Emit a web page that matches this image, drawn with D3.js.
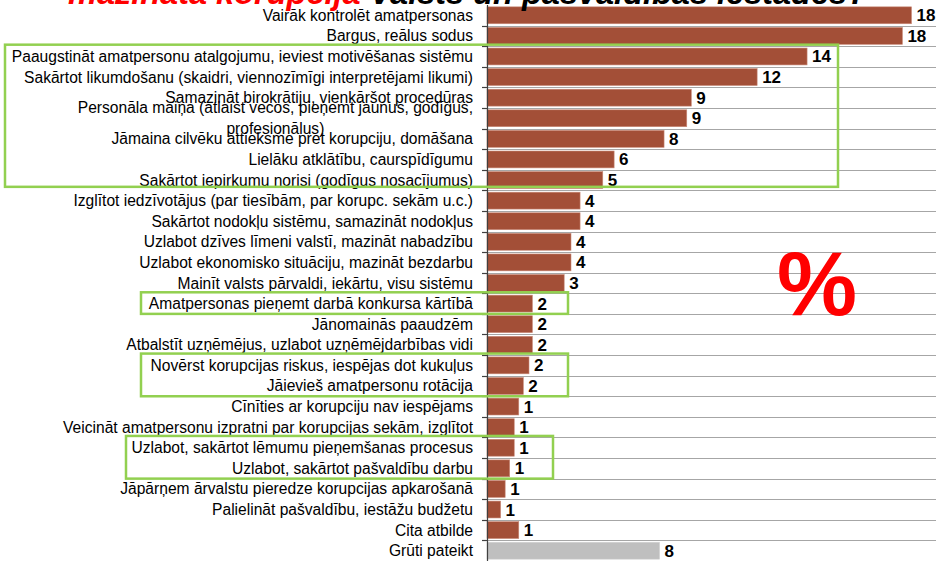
<!DOCTYPE html>
<html>
<head>
<meta charset="utf-8">
<script src="https://cdn.jsdelivr.net/npm/d3@7"></script>
<style>
  html, body { margin: 0; padding: 0; background: #fff; }
  svg { display: block; font-family: "Liberation Sans", Arial, sans-serif; }
</style>
</head>
<body>
<svg id="chart" width="936" height="561"></svg>
<script>
// ---- data ----
const categories = [
  "Vairāk kontrolēt amatpersonas",
  "Bargus, reālus sodus",
  "Paaugstināt amatpersonu atalgojumu, ieviest motivēšanas sistēmu",
  "Sakārtot likumdošanu (skaidri, viennozīmīgi interpretējami likumi)",
  "Samazināt birokrātiju, vienkāršot procedūras",
  "Personāla maiņa (atlaist vecos, pieņemt jaunus, godīgus,\nprofesionālus)",
  "Jāmaina cilvēku attieksme pret korupciju, domāšana",
  "Lielāku atklātību, caurspīdīgumu",
  "Sakārtot iepirkumu norisi (godīgus nosacījumus)",
  "Izglītot iedzīvotājus (par tiesībām, par korupc. sekām u.c.)",
  "Sakārtot nodokļu sistēmu, samazināt nodokļus",
  "Uzlabot dzīves līmeni valstī, mazināt nabadzību",
  "Uzlabot ekonomisko situāciju, mazināt bezdarbu",
  "Mainīt valsts pārvaldi, iekārtu, visu sistēmu",
  "Amatpersonas pieņemt darbā konkursa kārtībā",
  "Jānomainās paaudzēm",
  "Atbalstīt uzņēmējus, uzlabot uzņēmējdarbības vidi",
  "Novērst korupcijas riskus, iespējas dot kukuļus",
  "Jāievieš amatpersonu rotācija",
  "Cīnīties ar korupciju nav iespējams",
  "Veicināt amatpersonu izpratni par korupcijas sekām, izglītot",
  "Uzlabot, sakārtot lēmumu pieņemšanas procesus",
  "Uzlabot, sakārtot pašvaldību darbu",
  "Jāpārņem ārvalstu pieredze korupcijas apkarošanā",
  "Palielināt pašvaldību, iestāžu budžetu",
  "Cita atbilde",
  "Grūti pateikt"
];
const values = [18.7, 18.3, 14.1, 11.9, 9.0, 8.8, 7.8, 5.6, 5.1, 4.1, 4.1, 3.7, 3.7, 3.4,
                2.0, 2.0, 2.0, 1.85, 1.6, 1.4, 1.2, 1.2, 1.0, 0.8, 0.6, 1.4, 7.6];
const valueLabels = ["18","18","14","12","9","9","8","6","5","4","4","4","4","3",
                     "2","2","2","2","2","1","1","1","1","1","1","1","8"];
const neutralCategory = "Grūti pateikt";
const titleRed = "mazināta korupcija";
const titleBlack = " Valsts un pašvaldības iestādēs?";
const unitSign = "%";
// highlighted groups (first row index, last row index)
const highlightGroups = [
  { from: 2, to: 8, x0: 5, x1: 838, dTop: -1.5, dBot: -3.5 },
  { from: 14, to: 14, x0: 141, x1: 568, dTop: -1, dBot: 0 },
  { from: 17, to: 18, x0: 141, x1: 568, dTop: -1.5, dBot: 0 },
  { from: 21, to: 22, x0: 126, x1: 553, dTop: -1.5, dBot: 0 }
];

// ---- layout ----
const W = 936, H = 561;
const axisX = 487;
const plotTop = 5, plotBottom = 561;
const svg = d3.select("#chart");

const x = d3.scaleLinear().domain([0, 20]).range([axisX, axisX + 454]);
const y = d3.scaleBand().domain(categories).range([plotTop, plotBottom])
  .paddingInner(0.18).paddingOuter(0.09);
const step = y.step();

const barColor = "#A34F37";
const neutralColor = "#BFBFBF";

// gridlines at row boundaries
const boundaries = d3.range(1, categories.length).map(i => plotTop + i * step);
svg.append("g").selectAll("line").data(boundaries).join("line")
  .attr("x1", axisX).attr("x2", W)
  .attr("y1", d => Math.round(d) + 0.5).attr("y2", d => Math.round(d) + 0.5)
  .attr("stroke", "#A6A6A6").attr("stroke-width", 1);

// bars
svg.append("g").selectAll("rect").data(categories).join("rect")
  .attr("x", x(0))
  .attr("y", d => y(d))
  .attr("width", (d, i) => x(values[i]) - x(0))
  .attr("height", y.bandwidth())
  .attr("fill", d => d === neutralCategory ? neutralColor : barColor)
  .attr("stroke", d => d === neutralCategory ? "#D0D0D0" : "#C98A78")
  .attr("stroke-width", 0.6);

// axis line + ticks
svg.append("line")
  .attr("x1", axisX + 0.5).attr("x2", axisX + 0.5)
  .attr("y1", plotTop).attr("y2", plotBottom)
  .attr("stroke", "#404040").attr("stroke-width", 1.2);
svg.append("g").selectAll("line").data(boundaries).join("line")
  .attr("x1", axisX - 5).attr("x2", axisX)
  .attr("y1", d => Math.round(d) + 0.5).attr("y2", d => Math.round(d) + 0.5)
  .attr("stroke", "#404040").attr("stroke-width", 1.2);

// category labels
const labelG = svg.append("g")
  .attr("font-size", "15.6px").attr("fill", "#000");
categories.forEach((c, i) => {
  const cy = y(c) + y.bandwidth() / 2;
  const lines = c.split("\n");
  if (lines.length === 1) {
    labelG.append("text")
      .attr("x", 473).attr("y", cy + 5.5)
      .attr("text-anchor", "end").text(c);
  } else {
    const t1 = labelG.append("text")
      .attr("x", 473).attr("y", cy - 10.5 + 5.5)
      .attr("text-anchor", "end").text(lines[0]);
    const w1 = t1.node().getComputedTextLength();
    labelG.append("text")
      .attr("x", 473 - w1 / 2).attr("y", cy + 10.5 + 5.5)
      .attr("text-anchor", "middle").text(lines[1]);
  }
});

// value labels
svg.append("g").selectAll("text").data(categories).join("text")
  .attr("x", (d, i) => x(values[i]) + 5)
  .attr("y", d => y(d) + y.bandwidth() / 2 + 6)
  .attr("font-size", "17px").attr("font-weight", "bold").attr("fill", "#000")
  .text((d, i) => valueLabels[i]);

// highlight boxes
svg.append("g").selectAll("rect").data(highlightGroups).join("rect")
  .attr("x", d => d.x0)
  .attr("y", d => plotTop + d.from * step + d.dTop)
  .attr("width", d => d.x1 - d.x0)
  .attr("height", d => (d.to - d.from + 1) * step + d.dBot - d.dTop)
  .attr("fill", "none").attr("stroke", "#92D050").attr("stroke-width", 2.5);

// percent sign
svg.append("text")
  .attr("x", 817).attr("y", 315)
  .attr("text-anchor", "middle")
  .attr("font-size", "90px").attr("font-weight", "bold").attr("fill", "#FF0000")
  .text(unitSign);

// title (cut off at the top)
const title = svg.append("text")
  .attr("x", 68).attr("y", 4)
  .attr("font-size", "32.5px").attr("font-weight", "bold").attr("font-style", "italic");
title.append("tspan").attr("fill", "#FF0000").text(titleRed);
title.append("tspan").attr("fill", "#000").text(titleBlack);
</script>
</body>
</html>
